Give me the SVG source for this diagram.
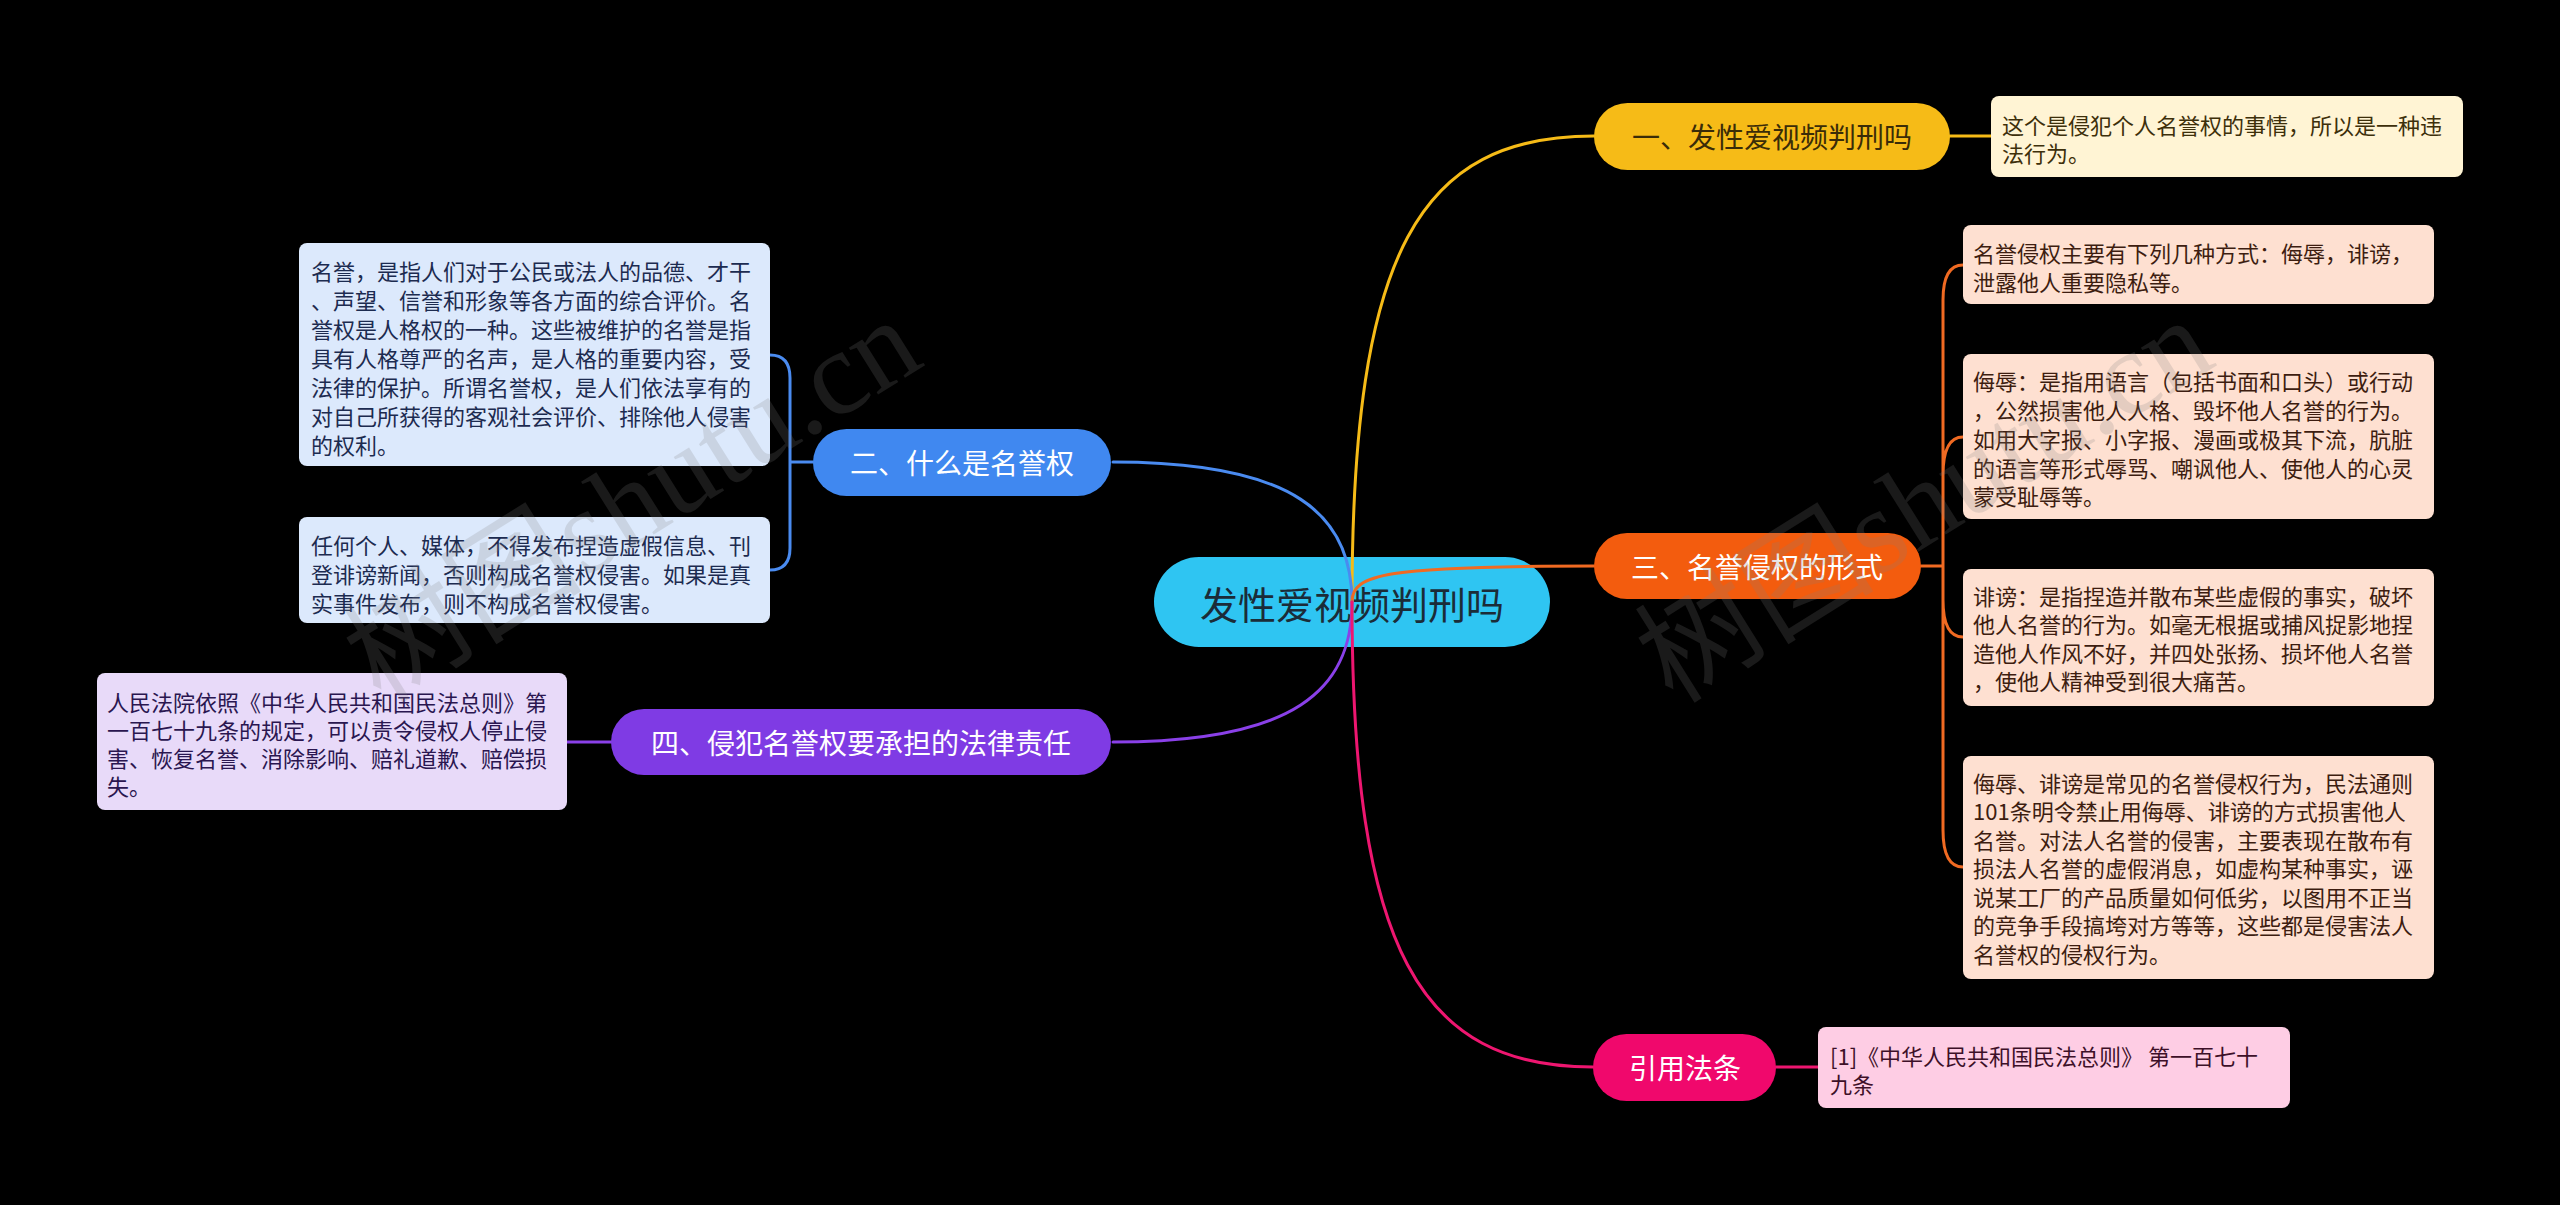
<svg xmlns="http://www.w3.org/2000/svg" width="2560" height="1205" viewBox="0 0 2560 1205">
<style>
text{font-family:"Noto Sans CJK SC","Noto Sans",sans-serif;dominant-baseline:central}
.main{font-size:28px;text-anchor:middle}
.leaf{font-size:22px}
.c{fill:none;stroke-width:3;stroke-linecap:round}
.wm{font-family:"Liberation Serif","Noto Sans CJK SC",serif;font-size:120px;fill:#808080;opacity:0.2;dominant-baseline:auto}
</style>
<rect width="2560" height="1205" fill="#000"/>
<g id="root">
<rect x="1154" y="557" width="396" height="90" rx="45" fill="#2FC5F2"/>
<text x="1352" y="602" font-size="38" text-anchor="middle" fill="#1b2c38">发性爱视频判刑吗</text>
</g>
<g id="connectors">
<path class="c" stroke="#F6BB17" d="M1352 602 C1352 250 1420 136 1594 136"/>
<path class="c" stroke="#F6BB17" d="M1950 136 L1991 136"/>
<path class="c" stroke="#4A8BF0" d="M1352 602 C1352 515 1295 462 1113 462"/>
<path class="c" stroke="#4A8BF0" d="M813 462 L790 462 M790 462 L790 378 Q790 355 770 355 M790 462 L790 548 Q790 570 770 570"/>
<path class="c" stroke="#F06A22" d="M1352 602 C1352 574 1385 566 1594 566"/>
<path class="c" stroke="#F06A22" d="M1921 566 L1943 566 M1943 566 L1943 300 Q1943 265 1963 265 M1943 566 L1943 475 Q1943 437 1963 437 M1943 566 L1943 600 Q1943 637 1963 637 M1943 566 L1943 830 Q1943 867 1963 867"/>
<path class="c" stroke="#8A40E8" d="M1352 602 C1352 690 1295 742 1113 742"/>
<path class="c" stroke="#8A40E8" d="M611 742 L567 742"/>
<path class="c" stroke="#EE1670" d="M1352 602 C1352 950 1420 1067 1593 1067"/>
<path class="c" stroke="#EE1670" d="M1776 1067 L1818 1067"/>
</g>
<g id="n1">
<rect x="1594" y="103" width="356" height="67" rx="33.5" fill="#F6BB17"/>
<text class="main" x="1772" y="136" fill="#3a2c08">一、发性爱视频判刑吗</text>
</g>
<g id="n1a">
<rect x="1991" y="96" width="472" height="81" rx="8" fill="#FFF4D4"/>
<text class="leaf" x="2002" fill="#3d2f0a"><tspan x="2002" y="124">这个是侵犯个人名誉权的事情，所以是一种违</tspan><tspan x="2002" y="152">法行为。</tspan></text>
</g>
<g id="n2">
<rect x="813" y="429" width="298" height="67" rx="33.5" fill="#4088F0"/>
<text class="main" x="962" y="462" fill="#fff">二、什么是名誉权</text>
</g>
<g id="n2a">
<rect x="299" y="243" width="471" height="223" rx="8" fill="#DCE9FC"/>
<text class="leaf" fill="#1c2b50"><tspan x="311" y="270">名誉，是指人们对于公民或法人的品德、才干</tspan><tspan x="311" y="299">、声望、信誉和形象等各方面的综合评价。名</tspan><tspan x="311" y="328">誉权是人格权的一种。这些被维护的名誉是指</tspan><tspan x="311" y="357">具有人格尊严的名声，是人格的重要内容，受</tspan><tspan x="311" y="386">法律的保护。所谓名誉权，是人们依法享有的</tspan><tspan x="311" y="415">对自己所获得的客观社会评价、排除他人侵害</tspan><tspan x="311" y="444">的权利。</tspan></text>
</g>
<g id="n2b">
<rect x="299" y="517" width="471" height="106" rx="8" fill="#DCE9FC"/>
<text class="leaf" fill="#1c2b50"><tspan x="311" y="544">任何个人、媒体，不得发布捏造虚假信息、刊</tspan><tspan x="311" y="573">登诽谤新闻，否则构成名誉权侵害。如果是真</tspan><tspan x="311" y="602">实事件发布，则不构成名誉权侵害。</tspan></text>
</g>
<g id="n3">
<rect x="1594" y="533" width="327" height="66" rx="33" fill="#F35C0E"/>
<text class="main" x="1757" y="566" fill="#fff">三、名誉侵权的形式</text>
</g>
<g id="n3a">
<rect x="1963" y="225" width="471" height="79" rx="8" fill="#FEE0D1"/>
<text class="leaf" fill="#3d1d10"><tspan x="1973" y="252">名誉侵权主要有下列几种方式：侮辱，诽谤，</tspan><tspan x="1973" y="281">泄露他人重要隐私等。</tspan></text>
</g>
<g id="n3b">
<rect x="1963" y="354" width="471" height="165" rx="8" fill="#FEE0D1"/>
<text class="leaf" fill="#3d1d10"><tspan x="1973" y="380">侮辱：是指用语言（包括书面和口头）或行动</tspan><tspan x="1973" y="409">，公然损害他人人格、毁坏他人名誉的行为。</tspan><tspan x="1973" y="438">如用大字报、小字报、漫画或极其下流，肮脏</tspan><tspan x="1973" y="467">的语言等形式辱骂、嘲讽他人、使他人的心灵</tspan><tspan x="1973" y="495">蒙受耻辱等。</tspan></text>
</g>
<g id="n3c">
<rect x="1963" y="569" width="471" height="137" rx="8" fill="#FEE0D1"/>
<text class="leaf" fill="#3d1d10"><tspan x="1973" y="595">诽谤：是指捏造并散布某些虚假的事实，破坏</tspan><tspan x="1973" y="623">他人名誉的行为。如毫无根据或捕风捉影地捏</tspan><tspan x="1973" y="652">造他人作风不好，并四处张扬、损坏他人名誉</tspan><tspan x="1973" y="680">，使他人精神受到很大痛苦。</tspan></text>
</g>
<g id="n3d">
<rect x="1963" y="756" width="471" height="223" rx="8" fill="#FEE0D1"/>
<text class="leaf" fill="#3d1d10"><tspan x="1973" y="782">侮辱、诽谤是常见的名誉侵权行为，民法通则</tspan><tspan x="1973" y="810">101条明令禁止用侮辱、诽谤的方式损害他人</tspan><tspan x="1973" y="839">名誉。对法人名誉的侵害，主要表现在散布有</tspan><tspan x="1973" y="867">损法人名誉的虚假消息，如虚构某种事实，诬</tspan><tspan x="1973" y="896">说某工厂的产品质量如何低劣，以图用不正当</tspan><tspan x="1973" y="924">的竞争手段搞垮对方等等，这些都是侵害法人</tspan><tspan x="1973" y="953">名誉权的侵权行为。</tspan></text>
</g>
<g id="n4">
<rect x="611" y="709" width="500" height="66" rx="33" fill="#7F3BE4"/>
<text class="main" x="861" y="742" fill="#fff">四、侵犯名誉权要承担的法律责任</text>
</g>
<g id="n4a">
<rect x="97" y="673" width="470" height="137" rx="8" fill="#E8DAF9"/>
<text class="leaf" fill="#2a1650"><tspan x="107" y="701">人民法院依照《中华人民共和国民法总则》第</tspan><tspan x="107" y="729">一百七十九条的规定，可以责令侵权人停止侵</tspan><tspan x="107" y="757">害、恢复名誉、消除影响、赔礼道歉、赔偿损</tspan><tspan x="107" y="785">失。</tspan></text>
</g>
<g id="n5">
<rect x="1593" y="1034" width="183" height="67" rx="33.5" fill="#F0086C"/>
<text class="main" x="1685" y="1067" fill="#fff">引用法条</text>
</g>
<g id="n5a">
<rect x="1818" y="1027" width="472" height="81" rx="8" fill="#FECDE4"/>
<text class="leaf" fill="#3d1028"><tspan x="1830" y="1055">[1]《中华人民共和国民法总则》 第一百七十</tspan><tspan x="1830" y="1083">九条</tspan></text>
</g>
<g id="watermark">
<text class="wm" transform="translate(381 705) rotate(-32)">树图shutu.cn</text>
<text class="wm" transform="translate(1673 705) rotate(-32)">树图shutu.cn</text>
</g>
</svg>
